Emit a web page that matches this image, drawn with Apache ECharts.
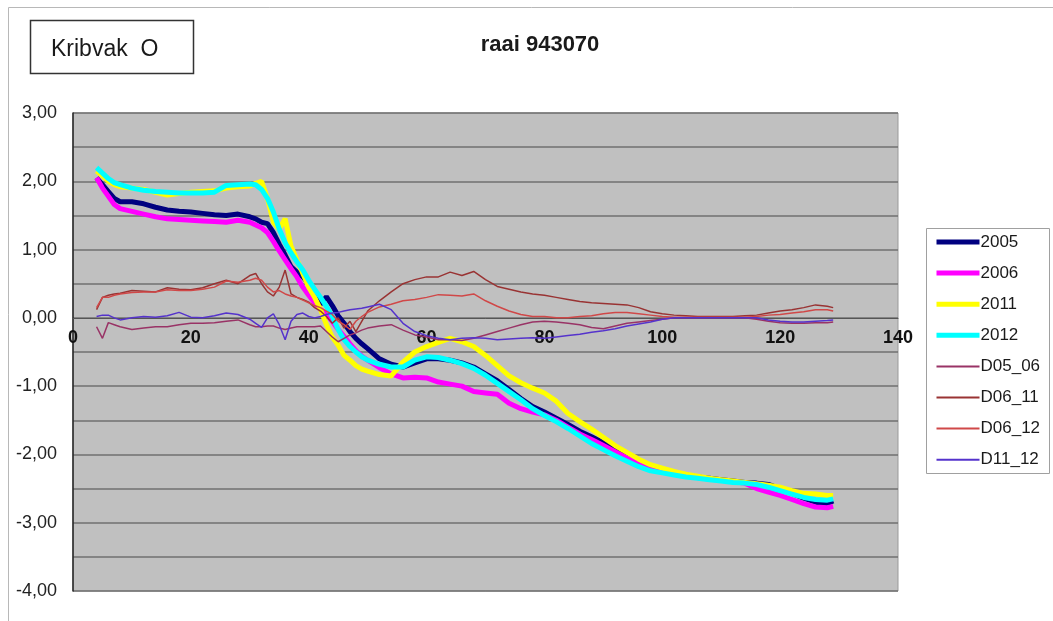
<!DOCTYPE html>
<html>
<head>
<meta charset="utf-8">
<script src="https://cdn.jsdelivr.net/npm/echarts@6/dist/echarts.min.js"></script>
<style>
html,body{margin:0;padding:0;background:#fff;}
#c{width:1053px;height:621px;}
</style>
</head>
<body>
<div id="c"></div>
<script>
// x positions (distance along transect)
const X = [4,5,6,7,8,
  10,12,14,16,18,20,22,24,26,28,30,
  31,32,33,34,35,36,37,38,39,40,41,42,43,44,45,46,47,48,49,50,
  52,54,56,58,60,62,64,66,68,70,72,74,76,78,80,82,84,86,88,90,92,94,96,98,100,102,104,106,108,110,112,114,116,118,120,122,124,126,128,
  129];

const Y2005 = [2.05,1.95,1.85,1.75,1.70,
  1.70,1.67,1.62,1.58,1.56,1.55,1.53,1.51,1.50,1.52,1.48,
  1.45,1.40,1.38,1.25,1.08,0.92,0.75,0.67,0.60,0.50,0.38,0.20,0.31,0.18,0.03,-0.08,-0.20,-0.30,-0.38,-0.45,
  -0.60,-0.68,-0.72,-0.66,-0.60,-0.60,-0.62,-0.66,-0.72,-0.82,-0.92,-1.05,-1.18,-1.30,-1.38,-1.47,-1.56,-1.66,-1.74,-1.83,-1.92,-2.02,-2.12,-2.18,-2.22,-2.27,-2.30,-2.33,-2.35,-2.37,-2.39,-2.41,-2.42,-2.44,-2.50,-2.57,-2.64,-2.70,-2.72,
  -2.68];

const Y2006 = [2.05,1.90,1.78,1.66,1.60,
  1.56,1.52,1.48,1.45,1.44,1.43,1.42,1.41,1.40,1.43,1.40,
  1.36,1.32,1.25,1.12,0.98,0.85,0.72,0.60,0.45,0.33,0.22,0.12,0.05,-0.05,-0.17,-0.27,-0.38,-0.48,-0.56,-0.62,
  -0.73,-0.82,-0.88,-0.87,-0.88,-0.94,-0.97,-1.00,-1.08,-1.10,-1.12,-1.25,-1.33,-1.38,-1.42,-1.50,-1.60,-1.70,-1.78,-1.87,-1.96,-2.05,-2.13,-2.20,-2.24,-2.28,-2.31,-2.34,-2.36,-2.38,-2.40,-2.42,-2.50,-2.55,-2.60,-2.66,-2.72,-2.77,-2.78,
  -2.76];

const Y2011 = [2.15,2.08,2.00,1.95,1.92,
  1.90,1.88,1.84,1.80,1.82,1.84,1.85,1.86,1.90,1.92,1.93,
  1.97,2.00,1.75,1.40,1.30,1.45,1.05,0.85,0.65,0.45,0.30,0.12,-0.10,-0.28,-0.40,-0.55,-0.62,-0.70,-0.75,-0.78,
  -0.83,-0.85,-0.65,-0.50,-0.42,-0.36,-0.30,-0.35,-0.42,-0.55,-0.70,-0.85,-0.95,-1.03,-1.10,-1.22,-1.40,-1.52,-1.63,-1.75,-1.87,-1.97,-2.07,-2.15,-2.20,-2.25,-2.29,-2.32,-2.35,-2.37,-2.39,-2.41,-2.43,-2.45,-2.48,-2.53,-2.57,-2.58,-2.60,
  -2.60];

const Y2012 = [2.20,2.12,2.04,1.98,1.95,
  1.90,1.87,1.85,1.84,1.83,1.83,1.83,1.84,1.94,1.95,1.96,
  1.95,1.88,1.75,1.55,1.30,1.10,0.95,0.82,0.70,0.55,0.42,0.30,0.17,0.02,-0.17,-0.32,-0.42,-0.50,-0.57,-0.62,
  -0.68,-0.72,-0.72,-0.62,-0.57,-0.58,-0.62,-0.67,-0.74,-0.84,-0.96,-1.08,-1.20,-1.33,-1.43,-1.52,-1.62,-1.73,-1.84,-1.93,-2.02,-2.10,-2.18,-2.24,-2.27,-2.30,-2.33,-2.35,-2.37,-2.39,-2.41,-2.42,-2.44,-2.48,-2.53,-2.58,-2.63,-2.66,-2.67,
  -2.65];

const D05_06 = [-0.13,-0.30,-0.07,-0.10,-0.13,
  -0.17,-0.15,-0.13,-0.13,-0.10,-0.08,-0.08,-0.07,-0.05,-0.03,-0.10,
  -0.13,-0.13,-0.12,-0.12,-0.15,-0.17,-0.15,-0.13,-0.13,-0.13,-0.13,-0.12,-0.20,-0.28,-0.35,-0.30,-0.25,-0.22,-0.18,-0.15,
  -0.12,-0.10,-0.18,-0.25,-0.28,-0.32,-0.32,-0.33,-0.30,-0.25,-0.20,-0.15,-0.10,-0.06,-0.05,-0.06,-0.08,-0.10,-0.14,-0.16,-0.12,-0.08,-0.06,-0.04,-0.02,0.00,0.00,0.00,0.00,0.00,0.00,0.00,-0.02,-0.05,-0.07,-0.08,-0.08,-0.07,-0.07,
  -0.06];

const D06_11 = [0.12,0.30,0.33,0.35,0.36,
  0.40,0.39,0.38,0.44,0.42,0.41,0.44,0.50,0.55,0.50,0.62,
  0.65,0.50,0.38,0.32,0.45,0.70,0.35,0.30,0.27,0.23,0.15,0.10,0.02,-0.08,0.00,-0.15,-0.05,-0.20,-0.05,0.10,
  0.25,0.38,0.50,0.56,0.60,0.60,0.67,0.62,0.68,0.56,0.46,0.42,0.38,0.35,0.33,0.30,0.27,0.24,0.22,0.21,0.20,0.19,0.15,0.09,0.06,0.04,0.03,0.02,0.02,0.02,0.02,0.03,0.04,0.07,0.10,0.12,0.15,0.19,0.17,
  0.15];

const D06_12 = [0.15,0.30,0.30,0.33,0.35,
  0.37,0.38,0.38,0.41,0.40,0.40,0.42,0.45,0.54,0.52,0.55,
  0.58,0.55,0.45,0.38,0.40,0.35,0.32,0.30,0.26,0.22,0.18,0.15,0.10,0.05,-0.05,-0.10,-0.17,-0.05,0.02,0.08,
  0.16,0.20,0.25,0.27,0.30,0.34,0.33,0.32,0.35,0.25,0.17,0.10,0.05,0.02,0.02,0.00,0.00,0.02,0.03,0.06,0.08,0.08,0.06,0.04,0.02,0.01,0.01,0.01,0.01,0.01,0.01,0.01,0.02,0.04,0.05,0.07,0.09,0.12,0.12,
  0.10];

const D11_12 = [0.02,0.04,0.04,0.00,-0.03,
  0.00,0.02,0.01,0.03,0.08,0.01,0.00,0.03,0.07,0.05,-0.02,
  -0.08,-0.14,0.00,0.06,-0.10,-0.32,-0.05,0.05,0.07,0.02,0.00,0.02,0.05,0.07,0.08,0.10,0.12,0.13,0.14,0.16,
  0.20,0.12,-0.08,-0.20,-0.26,-0.30,-0.32,-0.30,-0.29,-0.30,-0.32,-0.31,-0.30,-0.29,-0.30,-0.28,-0.26,-0.24,-0.21,-0.19,-0.16,-0.12,-0.09,-0.06,-0.02,0.00,0.00,0.00,0.00,0.00,0.00,0.00,0.00,-0.03,-0.05,-0.06,-0.06,-0.05,-0.04,
  -0.03];

const X_TICKS = {min: 0, max: 140, interval: 20};
const Y_TICKS = {min: -4, max: 3, interval: 0.5};

const FONT = '"Liberation Sans", Arial, Helvetica, sans-serif';

const seriesDefs = [
  {name: '2005', data: Y2005, color: '#000080', width: 5, legendWidth: 5},
  {name: '2006', data: Y2006, color: '#ff00ff', width: 5, legendWidth: 5},
  {name: '2011', data: Y2011, color: '#ffff00', width: 5, legendWidth: 5},
  {name: '2012', data: Y2012, color: '#00ffff', width: 5, legendWidth: 5},
  {name: 'D05_06', data: D05_06, color: '#993366', width: 1.5, legendWidth: 2},
  {name: 'D06_11', data: D06_11, color: '#993333', width: 1.5, legendWidth: 2},
  {name: 'D06_12', data: D06_12, color: '#d04848', width: 1.5, legendWidth: 2},
  {name: 'D11_12', data: D11_12, color: '#5533cc', width: 1.5, legendWidth: 2}
];

// plot area geometry (layout only)
const GRID = {left: 73, right: 155, top: 113, bottom: 30};
const plotH = 621 - GRID.top - GRID.bottom;
const zeroOffset = -plotH * (0 - Y_TICKS.min) / (Y_TICKS.max - Y_TICKS.min);

const chart = echarts.init(document.getElementById('c'), null, {renderer: 'canvas'});

chart.setOption({
  animation: false,
  backgroundColor: '#ffffff',
  textStyle: {fontFamily: FONT},
  grid: Object.assign({show: true, backgroundColor: '#c0c0c0', borderColor: '#9a9a9a', borderWidth: 1}, GRID),
  graphic: [
    {type: 'rect', shape: {x: 8.5, y: 7.5, width: 1100, height: 700},
     style: {fill: 'none', stroke: '#b8b8b8', lineWidth: 1}, z: -1, silent: true},
    {type: 'rect', shape: {x: 30.5, y: 20.5, width: 163, height: 53},
     style: {fill: '#fff', stroke: '#333', lineWidth: 1.5}, silent: true},
    {type: 'text', x: 51, y: 50,
     style: {text: 'Kribvak  O', font: '23px ' + FONT, fill: '#1a1a1a', textVerticalAlign: 'middle', verticalAlign: 'middle'}, silent: true},
    {type: 'text', x: 540, y: 45,
     style: {text: 'raai 943070', font: 'bold 22px ' + FONT, fill: '#1a1a1a', align: 'center', textAlign: 'center', verticalAlign: 'middle', textVerticalAlign: 'middle'}, silent: true},
    {type: 'rect', shape: {x: 926.5, y: 228.5, width: 123, height: 245},
     style: {fill: '#fff', stroke: '#a0a0a0', lineWidth: 1}, silent: true}
  ],
  legend: {
    orient: 'vertical',
    left: 934, top: 233,
    padding: 0,
    itemWidth: 43, itemHeight: 18, itemGap: 13.1,
    itemStyle: {opacity: 0, color: 'rgba(0,0,0,0)', borderWidth: 0},
    textStyle: {fontSize: 17, lineHeight: 18, color: '#1a1a1a', fontFamily: FONT, padding: [0, 0, 0, -4]},
    data: seriesDefs.map(s => ({name: s.name, lineStyle: {width: s.legendWidth, color: s.color}}))
  },
  xAxis: {
    type: 'value',
    position: 'bottom',
    offset: zeroOffset,
    min: X_TICKS.min, max: X_TICKS.max, interval: X_TICKS.interval,
    axisLine: {onZero: false, lineStyle: {color: '#555', width: 1}},
    axisTick: {show: false},
    splitLine: {show: false},
    axisLabel: {color: '#111', fontSize: 18, fontWeight: 'bold', margin: 11, fontFamily: FONT}
  },
  yAxis: {
    type: 'value',
    min: Y_TICKS.min, max: Y_TICKS.max, interval: Y_TICKS.interval,
    axisLine: {show: true, onZero: false, lineStyle: {color: '#222', width: 1.5}},
    axisTick: {show: false},
    splitLine: {show: true, lineStyle: {color: '#707070', width: 1.5}},
    axisLabel: {
      color: '#222', fontSize: 18, margin: 16, fontFamily: FONT,
      formatter: v => Number.isInteger(v) ? v.toFixed(2).replace('.', ',') : ''
    }
  },
  series: seriesDefs.map(s => ({
    name: s.name,
    type: 'line',
    data: X.map((x, i) => [x, s.data[i]]),
    showSymbol: false,
    symbol: 'none',
    color: s.color,
    lineStyle: {color: s.color, width: s.width},
    emphasis: {disabled: true}
  }))
});
</script>
</body>
</html>
